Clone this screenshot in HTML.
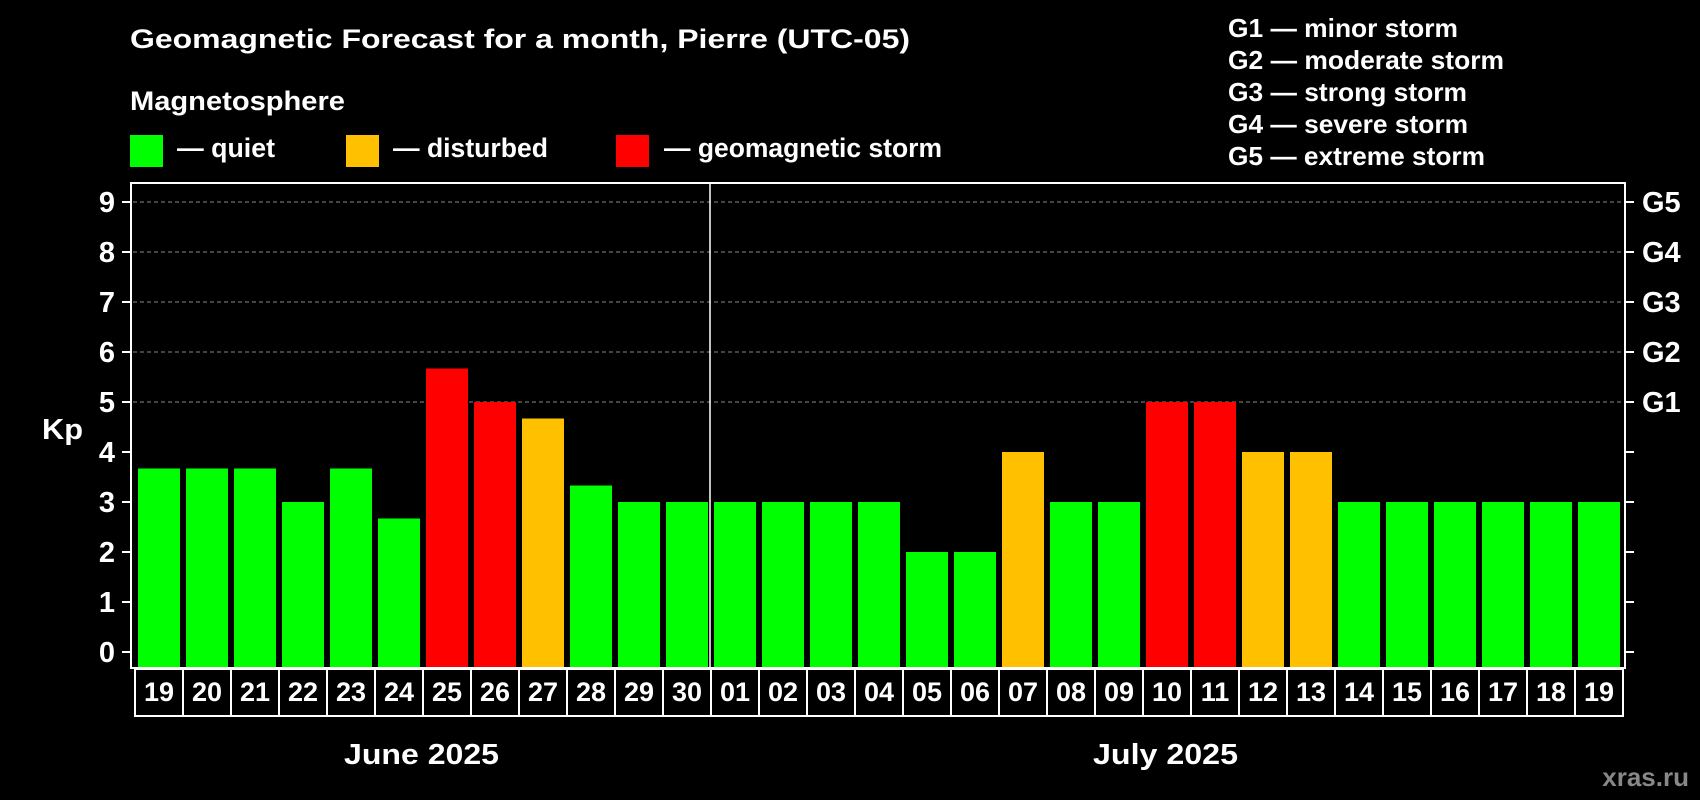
<!DOCTYPE html>
<html><head><meta charset="utf-8"><style>
html,body{margin:0;padding:0;background:#000;}
svg{display:block;font-family:"Liberation Sans",Arial,sans-serif;font-weight:bold;}
</style></head><body>
<svg id="chart" width="1700" height="800" viewBox="0 0 1700 800" xmlns="http://www.w3.org/2000/svg">
<rect width="1700" height="800" fill="#000"/>
<text x="130" y="48" fill="#fff" font-size="27" textLength="780" lengthAdjust="spacingAndGlyphs">Geomagnetic Forecast for a month, Pierre (UTC-05)</text>
<text x="130" y="110" fill="#fff" font-size="27" textLength="215" lengthAdjust="spacingAndGlyphs">Magnetosphere</text>
<rect x="130" y="135" width="33" height="32" fill="#00ff00"/>
<text x="177" y="157" fill="#fff" font-size="27" textLength="98" lengthAdjust="spacingAndGlyphs">— quiet</text>
<rect x="346" y="135" width="33" height="32" fill="#ffc000"/>
<text x="393" y="157" fill="#fff" font-size="27" textLength="155" lengthAdjust="spacingAndGlyphs">— disturbed</text>
<rect x="616" y="135" width="33" height="32" fill="#ff0000"/>
<text x="664" y="157" fill="#fff" font-size="27" textLength="278" lengthAdjust="spacingAndGlyphs">— geomagnetic storm</text>
<g fill="#fff" font-size="26">
<text x="1228" y="37" textLength="230" lengthAdjust="spacingAndGlyphs">G1 — minor storm</text>
<text x="1228" y="69" textLength="276" lengthAdjust="spacingAndGlyphs">G2 — moderate storm</text>
<text x="1228" y="101" textLength="239" lengthAdjust="spacingAndGlyphs">G3 — strong storm</text>
<text x="1228" y="133" textLength="240" lengthAdjust="spacingAndGlyphs">G4 — severe storm</text>
<text x="1228" y="165" textLength="257" lengthAdjust="spacingAndGlyphs">G5 — extreme storm</text>
</g>
<text x="42" y="439" fill="#fff" font-size="29" textLength="41" lengthAdjust="spacingAndGlyphs">Kp</text>
<g id="grid"></g>
<g id="bars"></g>
<rect x="131" y="183" width="1494" height="485" fill="none" stroke="#fff" stroke-width="2"/>
<line x1="710" y1="183" x2="710" y2="668" stroke="#fff" stroke-width="1.5"/>
<g id="ticks"></g>
<g id="dates"></g>
<text x="344" y="764" fill="#fff" font-size="29" textLength="155" lengthAdjust="spacingAndGlyphs">June 2025</text>
<text x="1093" y="764" fill="#fff" font-size="29" textLength="145" lengthAdjust="spacingAndGlyphs">July 2025</text>
<text x="1689" y="786" fill="#888" font-size="26" text-anchor="end">xras.ru</text>
</svg>
<script>
const days = ["19","20","21","22","23","24","25","26","27","28","29","30","01","02","03","04","05","06","07","08","09","10","11","12","13","14","15","16","17","18","19"];
const kpValues = [3.67,3.67,3.67,3,3.67,2.67,5.67,5,4.67,3.33,3,3,3,3,3,3,2,2,4,3,3,5,5,4,4,3,3,3,3,3,3];
const levels = ["q","q","q","q","q","q","s","s","d","q","q","q","q","q","q","q","q","q","d","q","q","s","s","d","d","q","q","q","q","q","q"];
const yTicks = [0,1,2,3,4,5,6,7,8,9];
const gLabels = ["","","","","","G1","G2","G3","G4","G5"];
const NS="http://www.w3.org/2000/svg";
const y0=652, unit=50, base=668;
const yScale=v=>y0-v*unit;
const xScale=i=>138+i*48;
const colors={q:"#00ff00",d:"#ffc000",s:"#ff0000"};
function mk(tag,attrs,parent){const e=document.createElementNS(NS,tag);for(const k in attrs)e.setAttribute(k,attrs[k]);document.getElementById(parent).appendChild(e);return e;}
yTicks.forEach((t,i)=>{
  const y=yScale(t);
  if(t>=5){const g=mk("line",{x1:133,x2:1623,y1:y,y2:y,stroke:"#888","stroke-dasharray":"4,3","stroke-width":1},"grid");
    
    }
  const l=mk("line",{x1:122,x2:131,y1:y,y2:y,stroke:"#fff","stroke-width":2},"ticks");
  
  
  const r=mk("line",{x1:1625,x2:1634,y1:y,y2:y,stroke:"#fff","stroke-width":2},"ticks");
  
  
  const tx=mk("text",{x:115,y:y+10,fill:"#fff","font-size":29,"text-anchor":"end"},"ticks");
  tx.textContent=t;
  
  
  if(gLabels[i]){const g=mk("text",{x:1642,y:y+10,fill:"#fff","font-size":29},"ticks");
    g.textContent=gLabels[i];
    
    }
});
kpValues.forEach((v,i)=>{
  const y=yScale(v);
  const b=mk("rect",{x:xScale(i),y:y,width:42,height:base-y,fill:colors[levels[i]]},"bars");
  
  
  const bx=mk("rect",{x:xScale(i)-3,y:669,width:48,height:47,fill:"none",stroke:"#fff","stroke-width":2},"dates");
  
  
  const t=mk("text",{x:xScale(i)+21,y:701,fill:"#fff","font-size":27,"text-anchor":"middle"},"dates");
  t.textContent=days[i];
  
  
});
</script>
</body></html>
